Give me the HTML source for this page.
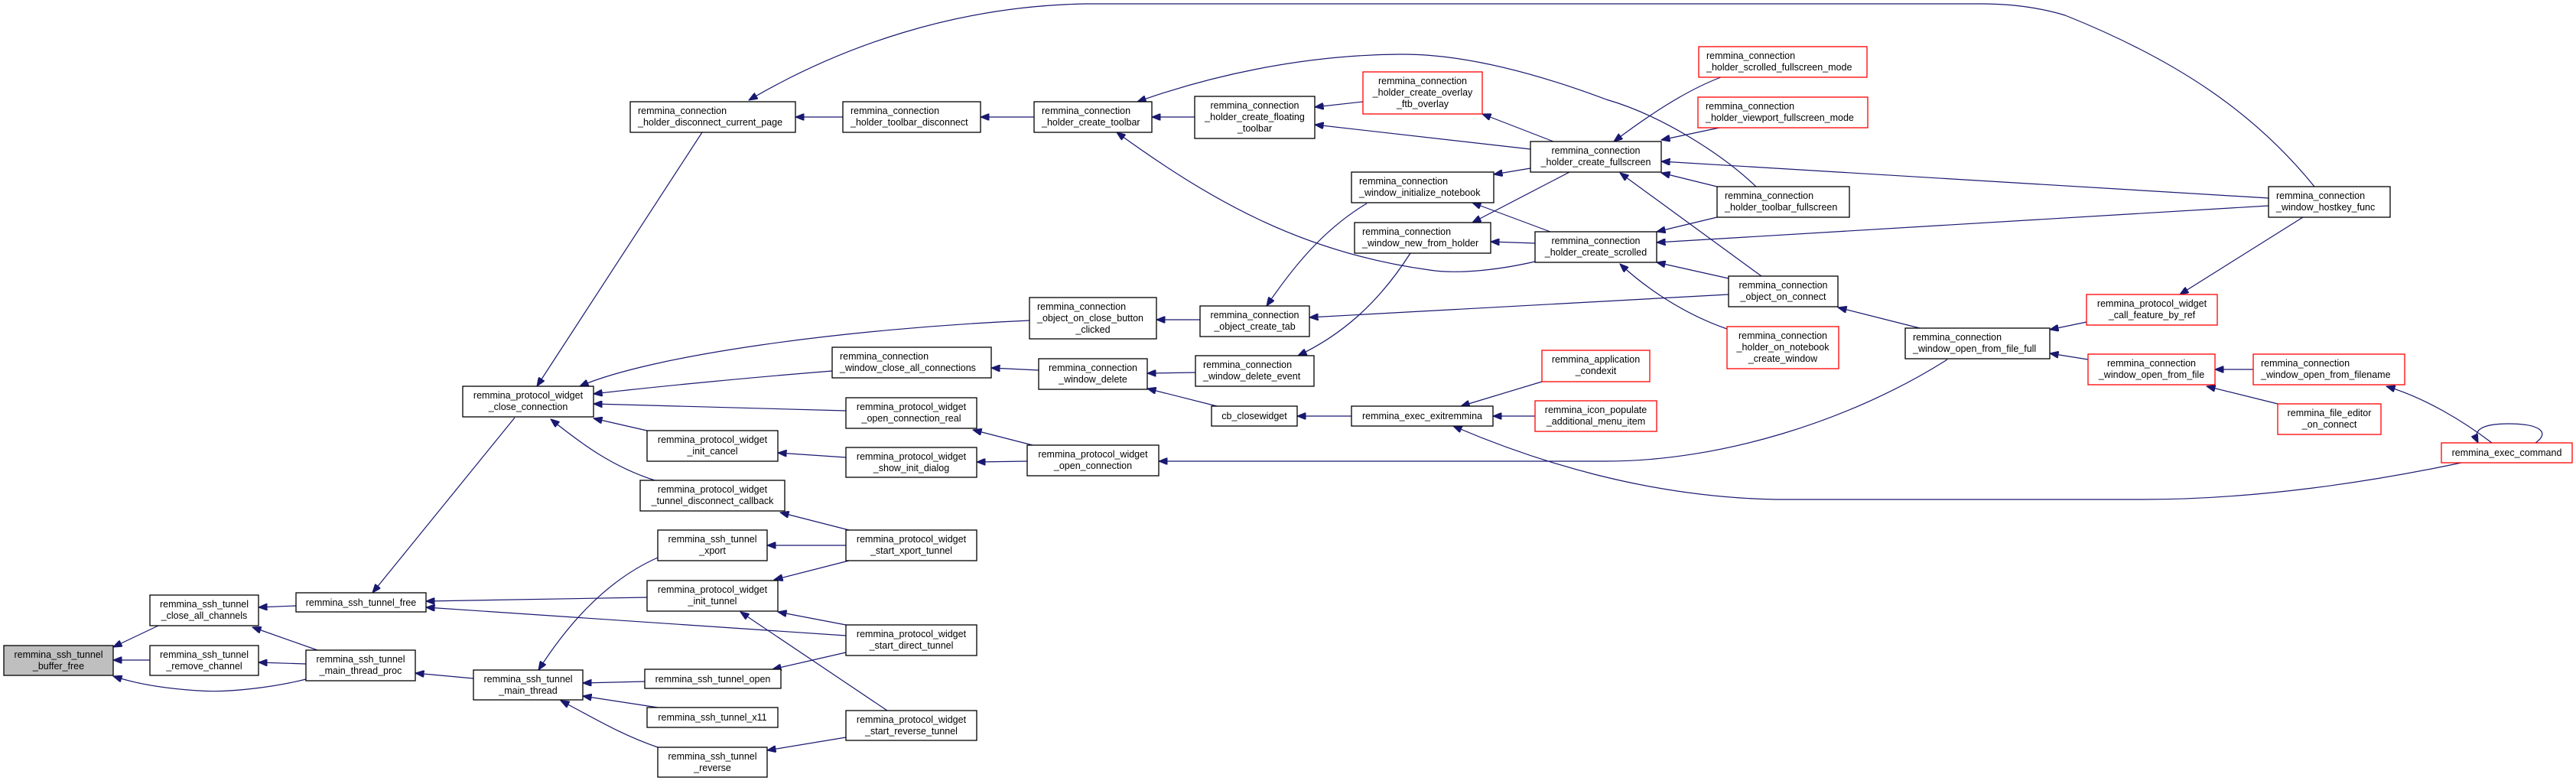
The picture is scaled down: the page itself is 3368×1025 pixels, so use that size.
<!DOCTYPE html>
<html><head><meta charset="utf-8"><style>
html,body{margin:0;padding:0;background:#fff;}
svg{display:block;}
text{font-family:"Liberation Sans",Arial,sans-serif;font-size:12.5px;fill:#000;}
.n{fill:#fff;stroke:#000;stroke-width:1.3;}
.r{fill:#fff;stroke:#ff0000;stroke-width:1.3;}
.g{fill:#bfbfbf;stroke:#000;stroke-width:1.3;}
path.e{fill:none;stroke:#191970;stroke-width:1.2;marker-end:url(#a);}
</style></head><body>
<svg width="3368" height="1025" viewBox="0 0 3368 1025" xmlns="http://www.w3.org/2000/svg">
<defs><marker id="a" viewBox="0 0 10 8" refX="10" refY="4" markerWidth="12" markerHeight="9" markerUnits="userSpaceOnUse" orient="auto"><path d="M0,0 L10,4 L0,8 z" fill="#191970" stroke="#191970"/></marker></defs>

<!-- edges -->
<path class="e" d="M207,818 L148,846"/>
<path class="e" d="M196,863 L148,863"/>
<path class="e" d="M400,888 C360,898 300,906 260,903 C210,900 175,893 148,884"/>
<path class="e" d="M387,792 L338,794"/>
<path class="e" d="M415,850 L330,820"/>
<path class="e" d="M400,868 L338,866"/>
<path class="e" d="M673,546 L487,775"/>
<path class="e" d="M846,781 L557,786"/>
<path class="e" d="M1106,831 L557,794"/>
<path class="e" d="M619,887 L543,880"/>
<path class="e" d="M860,729 C790,760 740,820 704,876"/>
<path class="e" d="M843,891 L762,893"/>
<path class="e" d="M860,925 L762,910"/>
<path class="e" d="M860,977 C810,960 770,935 733,916"/>
<path class="e" d="M1346,419 C1100,430 850,465 758,505"/>
<path class="e" d="M1088,485 C1000,492 860,505 776,515"/>
<path class="e" d="M1106,537 L776,528"/>
<path class="e" d="M846,563 L776,547"/>
<path class="e" d="M856,628 C800,610 760,580 720,548"/>
<path class="e" d="M918,173 L702,505"/>
<path class="e" d="M1106,598 L1017,592"/>
<path class="e" d="M1110,693 L1020,670"/>
<path class="e" d="M1106,713 L1003,713"/>
<path class="e" d="M1110,733 L1012,758"/>
<path class="e" d="M1106,817 L1017,800"/>
<path class="e" d="M1160,929 L968,800"/>
<path class="e" d="M1106,853 L1010,875"/>
<path class="e" d="M1106,964 L1003,981"/>
<path class="e" d="M1350,582 L1272,562"/>
<path class="e" d="M1343,603 L1277,604"/>
<path class="e" d="M3026,244 C2950,150 2850,80 2700,20 C2660,8 2620,5 2591,5 L1420,5 C1250,8 1100,60 979,131"/>
<path class="e" d="M1102,153 L1040,153"/>
<path class="e" d="M1352,153 L1282,153"/>
<path class="e" d="M1562,153 L1506,153"/>
<path class="e" d="M2007,342 C1950,355 1900,358 1869,353 C1700,330 1580,260 1460,173"/>
<path class="e" d="M2296,244 C2250,200 2170,150 2100,130 C2020,100 1920,70 1830,71 C1700,72 1580,100 1487,133"/>
<path class="e" d="M1782,133 L1719,140"/>
<path class="e" d="M2001,195 L1719,163"/>
<path class="e" d="M2031,185 L1938,149"/>
<path class="e" d="M2001,220 L1953,228"/>
<path class="e" d="M2027,303 L1925,265"/>
<path class="e" d="M2052,225 L1925,291"/>
<path class="e" d="M2007,318 L1949,316"/>
<path class="e" d="M1787,266 C1730,300 1690,350 1656,400"/>
<path class="e" d="M1844,331 C1800,400 1750,440 1697,465"/>
<path class="e" d="M1569,418 L1512,418"/>
<path class="e" d="M2260,385 L1712,415"/>
<path class="e" d="M1358,484 L1296,481"/>
<path class="e" d="M1563,487 L1500,488"/>
<path class="e" d="M1591,531 L1500,508"/>
<path class="e" d="M1767,544 L1696,544"/>
<path class="e" d="M2016,499 L1910,531"/>
<path class="e" d="M2007,544 L1952,544"/>
<path class="e" d="M3218,605 C3100,630 2950,653 2800,653 L2323,653 C2150,650 2000,600 1900,557"/>
<path class="e" d="M2546,470 C2420,550 2250,603 2100,603 L1515,603"/>
<path class="e" d="M2245,244 L2172,226"/>
<path class="e" d="M2248,167 L2172,183"/>
<path class="e" d="M2250,101 C2200,120 2150,155 2110,185"/>
<path class="e" d="M2966,259 L2172,211"/>
<path class="e" d="M2303,361 L2118,226"/>
<path class="e" d="M2245,284 L2166,303"/>
<path class="e" d="M2966,269 L2166,317"/>
<path class="e" d="M2260,364 L2166,343"/>
<path class="e" d="M2258,430 C2200,410 2150,375 2118,345"/>
<path class="e" d="M2510,429 L2403,402"/>
<path class="e" d="M2728,421 L2680,431"/>
<path class="e" d="M2730,470 L2680,462"/>
<path class="e" d="M3011,284 L2850,385"/>
<path class="e" d="M2946,483 L2896,483"/>
<path class="e" d="M2978,528 L2885,505"/>
<path class="e" d="M3258,579 C3220,550 3170,520 3120,505"/>
<path class="e" d="M3315,579 C3335,565 3320,554 3280,554 C3245,554 3232,562 3240,579"/>

<!-- nodes -->
<g>
<rect class="g" x="5" y="844" width="143" height="39"/><text x="76.5" y="860" text-anchor="middle">remmina_ssh_tunnel</text><text x="76.5" y="875" text-anchor="middle">_buffer_free</text>
<rect class="n" x="196" y="778" width="142" height="40"/><text x="267" y="794" text-anchor="middle">remmina_ssh_tunnel</text><text x="267" y="809" text-anchor="middle">_close_all_channels</text>
<rect class="n" x="196" y="844" width="142" height="39"/><text x="267" y="860" text-anchor="middle">remmina_ssh_tunnel</text><text x="267" y="875" text-anchor="middle">_remove_channel</text>
<rect class="n" x="387" y="775" width="170" height="25"/><text x="472" y="792" text-anchor="middle">remmina_ssh_tunnel_free</text>
<rect class="n" x="400" y="850" width="143" height="40"/><text x="471.5" y="866" text-anchor="middle">remmina_ssh_tunnel</text><text x="471.5" y="881" text-anchor="middle">_main_thread_proc</text>
<rect class="n" x="605" y="505" width="171" height="40"/><text x="690.5" y="521" text-anchor="middle">remmina_protocol_widget</text><text x="690.5" y="536" text-anchor="middle">_close_connection</text>
<rect class="n" x="619" y="876" width="143" height="39"/><text x="690.5" y="892" text-anchor="middle">remmina_ssh_tunnel</text><text x="690.5" y="907" text-anchor="middle">_main_thread</text>
<rect class="n" x="1106" y="520" width="171" height="40"/><text x="1191.5" y="536" text-anchor="middle">remmina_protocol_widget</text><text x="1191.5" y="551" text-anchor="middle">_open_connection_real</text>
<rect class="n" x="846" y="563" width="171" height="40"/><text x="931.5" y="579" text-anchor="middle">remmina_protocol_widget</text><text x="931.5" y="594" text-anchor="middle">_init_cancel</text>
<rect class="n" x="1106" y="585" width="171" height="39"/><text x="1191.5" y="601" text-anchor="middle">remmina_protocol_widget</text><text x="1191.5" y="616" text-anchor="middle">_show_init_dialog</text>
<rect class="n" x="837" y="628" width="189" height="40"/><text x="931.5" y="644" text-anchor="middle">remmina_protocol_widget</text><text x="931.5" y="659" text-anchor="middle">_tunnel_disconnect_callback</text>
<rect class="n" x="860" y="693" width="143" height="40"/><text x="931.5" y="709" text-anchor="middle">remmina_ssh_tunnel</text><text x="931.5" y="724" text-anchor="middle">_xport</text>
<rect class="n" x="1106" y="693" width="171" height="40"/><text x="1191.5" y="709" text-anchor="middle">remmina_protocol_widget</text><text x="1191.5" y="724" text-anchor="middle">_start_xport_tunnel</text>
<rect class="n" x="846" y="759" width="171" height="40"/><text x="931.5" y="775" text-anchor="middle">remmina_protocol_widget</text><text x="931.5" y="790" text-anchor="middle">_init_tunnel</text>
<rect class="n" x="1106" y="817" width="171" height="40"/><text x="1191.5" y="833" text-anchor="middle">remmina_protocol_widget</text><text x="1191.5" y="848" text-anchor="middle">_start_direct_tunnel</text>
<rect class="n" x="843" y="875" width="178" height="25"/><text x="932" y="892" text-anchor="middle">remmina_ssh_tunnel_open</text>
<rect class="n" x="846" y="925" width="171" height="26"/><text x="931.5" y="942" text-anchor="middle">remmina_ssh_tunnel_x11</text>
<rect class="n" x="1106" y="929" width="171" height="39"/><text x="1191.5" y="945" text-anchor="middle">remmina_protocol_widget</text><text x="1191.5" y="960" text-anchor="middle">_start_reverse_tunnel</text>
<rect class="n" x="860" y="977" width="143" height="39"/><text x="931.5" y="993" text-anchor="middle">remmina_ssh_tunnel</text><text x="931.5" y="1008" text-anchor="middle">_reverse</text>
<rect class="n" x="1343" y="582" width="172" height="40"/><text x="1429" y="598" text-anchor="middle">remmina_protocol_widget</text><text x="1429" y="613" text-anchor="middle">_open_connection</text>

<rect class="n" x="824" y="133" width="216" height="40"/><text x="834" y="149">remmina_connection</text><text x="834" y="164">_holder_disconnect_current_page</text>
<rect class="n" x="1102" y="133" width="180" height="40"/><text x="1112" y="149">remmina_connection</text><text x="1112" y="164">_holder_toolbar_disconnect</text>
<rect class="n" x="1352" y="133" width="154" height="40"/><text x="1362" y="149">remmina_connection</text><text x="1362" y="164">_holder_create_toolbar</text>
<rect class="n" x="1346" y="389" width="166" height="54"/><text x="1356" y="405">remmina_connection</text><text x="1356" y="420">_object_on_close_button</text><text x="1429" y="435" text-anchor="middle">_clicked</text>
<rect class="n" x="1088" y="454" width="208" height="40"/><text x="1098" y="470">remmina_connection</text><text x="1098" y="485">_window_close_all_connections</text>
<rect class="n" x="1358" y="469" width="142" height="40"/><text x="1429" y="485" text-anchor="middle">remmina_connection</text><text x="1429" y="500" text-anchor="middle">_window_delete</text>
<rect class="n" x="1562" y="126" width="157" height="55"/><text x="1640.5" y="142" text-anchor="middle">remmina_connection</text><text x="1640.5" y="157" text-anchor="middle">_holder_create_floating</text><text x="1640.5" y="172" text-anchor="middle">_toolbar</text>
<rect class="r" x="1782" y="94" width="156" height="55"/><text x="1860" y="110" text-anchor="middle">remmina_connection</text><text x="1860" y="125" text-anchor="middle">_holder_create_overlay</text><text x="1860" y="140" text-anchor="middle">_ftb_overlay</text>
<rect class="n" x="2001" y="185" width="171" height="40"/><text x="2086.5" y="201" text-anchor="middle">remmina_connection</text><text x="2086.5" y="216" text-anchor="middle">_holder_create_fullscreen</text>
<rect class="n" x="1767" y="225" width="186" height="40"/><text x="1777" y="241">remmina_connection</text><text x="1777" y="256">_window_initialize_notebook</text>
<rect class="n" x="1771" y="291" width="178" height="40"/><text x="1781" y="307">remmina_connection</text><text x="1781" y="322">_window_new_from_holder</text>
<rect class="n" x="2007" y="303" width="159" height="40"/><text x="2086.5" y="319" text-anchor="middle">remmina_connection</text><text x="2086.5" y="334" text-anchor="middle">_holder_create_scrolled</text>
<rect class="n" x="1569" y="400" width="143" height="40"/><text x="1640.5" y="416" text-anchor="middle">remmina_connection</text><text x="1640.5" y="431" text-anchor="middle">_object_create_tab</text>
<rect class="n" x="1563" y="465" width="155" height="40"/><text x="1573" y="481">remmina_connection</text><text x="1573" y="496">_window_delete_event</text>
<rect class="r" x="2016" y="458" width="141" height="41"/><text x="2086.5" y="474" text-anchor="middle">remmina_application</text><text x="2086.5" y="489" text-anchor="middle">_condexit</text>
<rect class="n" x="1584" y="531" width="112" height="26"/><text x="1640" y="548" text-anchor="middle">cb_closewidget</text>
<rect class="n" x="1767" y="531" width="185" height="26"/><text x="1859.5" y="548" text-anchor="middle">remmina_exec_exitremmina</text>
<rect class="r" x="2007" y="524" width="159" height="40"/><text x="2086.5" y="540" text-anchor="middle">remmina_icon_populate</text><text x="2086.5" y="555" text-anchor="middle">_additional_menu_item</text>
<rect class="r" x="2221" y="61" width="220" height="40"/><text x="2231" y="77">remmina_connection</text><text x="2231" y="92">_holder_scrolled_fullscreen_mode</text>
<rect class="r" x="2220" y="127" width="222" height="40"/><text x="2230" y="143">remmina_connection</text><text x="2230" y="158">_holder_viewport_fullscreen_mode</text>
<rect class="n" x="2245" y="244" width="173" height="40"/><text x="2255" y="260">remmina_connection</text><text x="2255" y="275">_holder_toolbar_fullscreen</text>
<rect class="n" x="2260" y="361" width="143" height="40"/><text x="2331.5" y="377" text-anchor="middle">remmina_connection</text><text x="2331.5" y="392" text-anchor="middle">_object_on_connect</text>
<rect class="r" x="2258" y="427" width="146" height="55"/><text x="2331" y="443" text-anchor="middle">remmina_connection</text><text x="2331" y="458" text-anchor="middle">_holder_on_notebook</text><text x="2331" y="473" text-anchor="middle">_create_window</text>
<rect class="n" x="2491" y="429" width="189" height="40"/><text x="2501" y="445">remmina_connection</text><text x="2501" y="460">_window_open_from_file_full</text>
<rect class="r" x="2728" y="385" width="171" height="40"/><text x="2813.5" y="401" text-anchor="middle">remmina_protocol_widget</text><text x="2813.5" y="416" text-anchor="middle">_call_feature_by_ref</text>
<rect class="r" x="2730" y="463" width="166" height="40"/><text x="2813" y="479" text-anchor="middle">remmina_connection</text><text x="2813" y="494" text-anchor="middle">_window_open_from_file</text>
<rect class="n" x="2966" y="244" width="159" height="40"/><text x="2976" y="260">remmina_connection</text><text x="2976" y="275">_window_hostkey_func</text>
<rect class="r" x="2946" y="463" width="198" height="40"/><text x="2956" y="479">remmina_connection</text><text x="2956" y="494">_window_open_from_filename</text>
<rect class="r" x="2978" y="528" width="135" height="40"/><text x="3045.5" y="544" text-anchor="middle">remmina_file_editor</text><text x="3045.5" y="559" text-anchor="middle">_on_connect</text>
<rect class="r" x="3192" y="579" width="171" height="26"/><text x="3277.5" y="596" text-anchor="middle">remmina_exec_command</text>
</g>
</svg>
</body></html>
